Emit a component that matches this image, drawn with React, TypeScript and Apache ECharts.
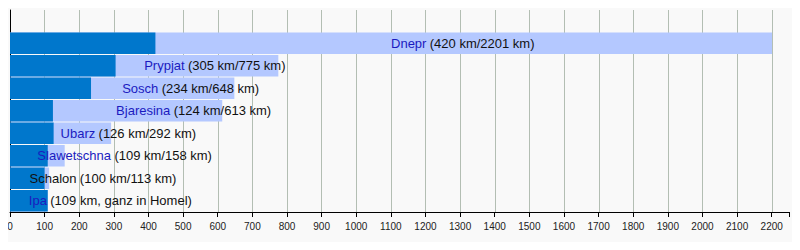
import React, { useEffect, useRef } from "react";
import * as echarts from "echarts";

const rivers = ["Dnepr", "Prypjat", "Sosch", "Bjaresina", "Ubarz", "Slawetschna", "Schalon", "Ipa"];
const inBelarus = [420, 305, 234, 124, 126, 109, 100, 109];
const totalLength = [2201, 775, 648, 613, 292, 158, 113, 109];
const linked = [true, true, true, true, true, true, false, true];
const notes = [
  "(420 km/2201 km)",
  "(305 km/775 km)",
  "(234 km/648 km)",
  "(124 km/613 km)",
  "(126 km/292 km)",
  "(109 km/158 km)",
  "(100 km/113 km)",
  "(109 km, ganz in Homel)",
];
const xTicks = [0, 2200, 100];

const FONT = "'Liberation Sans', Arial, sans-serif";

export default function App() {
  const ref = useRef<HTMLDivElement>(null);
  useEffect(() => {
    if (!ref.current) return;
    const chart = echarts.init(ref.current, null, { renderer: "svg" });
    chart.setOption({
      animation: false,
      backgroundColor: "#f9f9f9",
      textStyle: { fontFamily: FONT },
      grid: [
        { left: 10, top: 32, width: 779, height: 180, containLabel: false },
        { left: 10, top: 10, width: 762, height: 202, containLabel: false },
      ],
      xAxis: [
        {
          type: "value",
          gridIndex: 0,
          min: 0,
          max: 2250,
          interval: 100,
          splitLine: { show: false },
          axisLine: { show: true, lineStyle: { color: "#000", width: 1 } },
          axisTick: { show: true, length: 5, lineStyle: { color: "#000" } },
          axisLabel: {
            show: true,
            fontSize: 10,
            color: "#222",
            margin: 9,
            fontFamily: FONT,
            formatter: (v: number) => (v > xTicks[1] ? "" : String(v)),
          },
        },
        {
          type: "value",
          gridIndex: 1,
          min: xTicks[0],
          max: xTicks[1],
          interval: xTicks[2],
          axisLine: { show: false },
          axisTick: { show: false },
          axisLabel: { show: false },
          splitLine: { show: true, lineStyle: { color: "#b3beb3", width: 1 } },
        },
      ],
      yAxis: [
        {
          type: "category",
          gridIndex: 0,
          data: rivers,
          inverse: true,
          axisLine: { show: false },
          axisTick: { show: false },
          axisLabel: { show: false },
          splitLine: { show: false },
        },
        {
          type: "value",
          gridIndex: 1,
          min: 0,
          max: 1,
          axisLine: { show: true, onZero: false, lineStyle: { color: "#000", width: 1 } },
          axisTick: { show: false },
          axisLabel: { show: false },
          splitLine: { show: false },
        },
      ],
      series: [
        {
          type: "bar",
          xAxisIndex: 0,
          yAxisIndex: 0,
          data: totalLength,
          barGap: "-100%",
          barCategoryGap: "4%",
          itemStyle: { color: "#b4c8ff" },
          silent: true,
        },
        {
          type: "bar",
          xAxisIndex: 0,
          yAxisIndex: 0,
          data: inBelarus,
          barGap: "-100%",
          barCategoryGap: "4%",
          itemStyle: { color: "#0077cc" },
          silent: true,
        },
        {
          type: "bar",
          xAxisIndex: 0,
          yAxisIndex: 0,
          data: totalLength,
          barGap: "-100%",
          barCategoryGap: "4%",
          itemStyle: { color: "rgba(0,0,0,0)" },
          silent: true,
          label: {
            show: true,
            position: ["50%", "50%"],
            align: "left",
            verticalAlign: "middle",
            formatter: (p: any) => {
              const i = p.dataIndex;
              return `{${linked[i] ? "n" : "b"}|${rivers[i]}} {t|${notes[i]}}`;
            },
            rich: {
              n: { color: "#1b1bbf", fontSize: 13, fontFamily: FONT },
              b: { color: "#111", fontSize: 13, fontFamily: FONT },
              t: { color: "#111", fontSize: 13, fontFamily: FONT },
            },
          },
        },
      ],
    });
    return () => chart.dispose();
  }, []);
  return <div ref={ref} style={{ width: 800, height: 250, margin: -8 }} />;
}
